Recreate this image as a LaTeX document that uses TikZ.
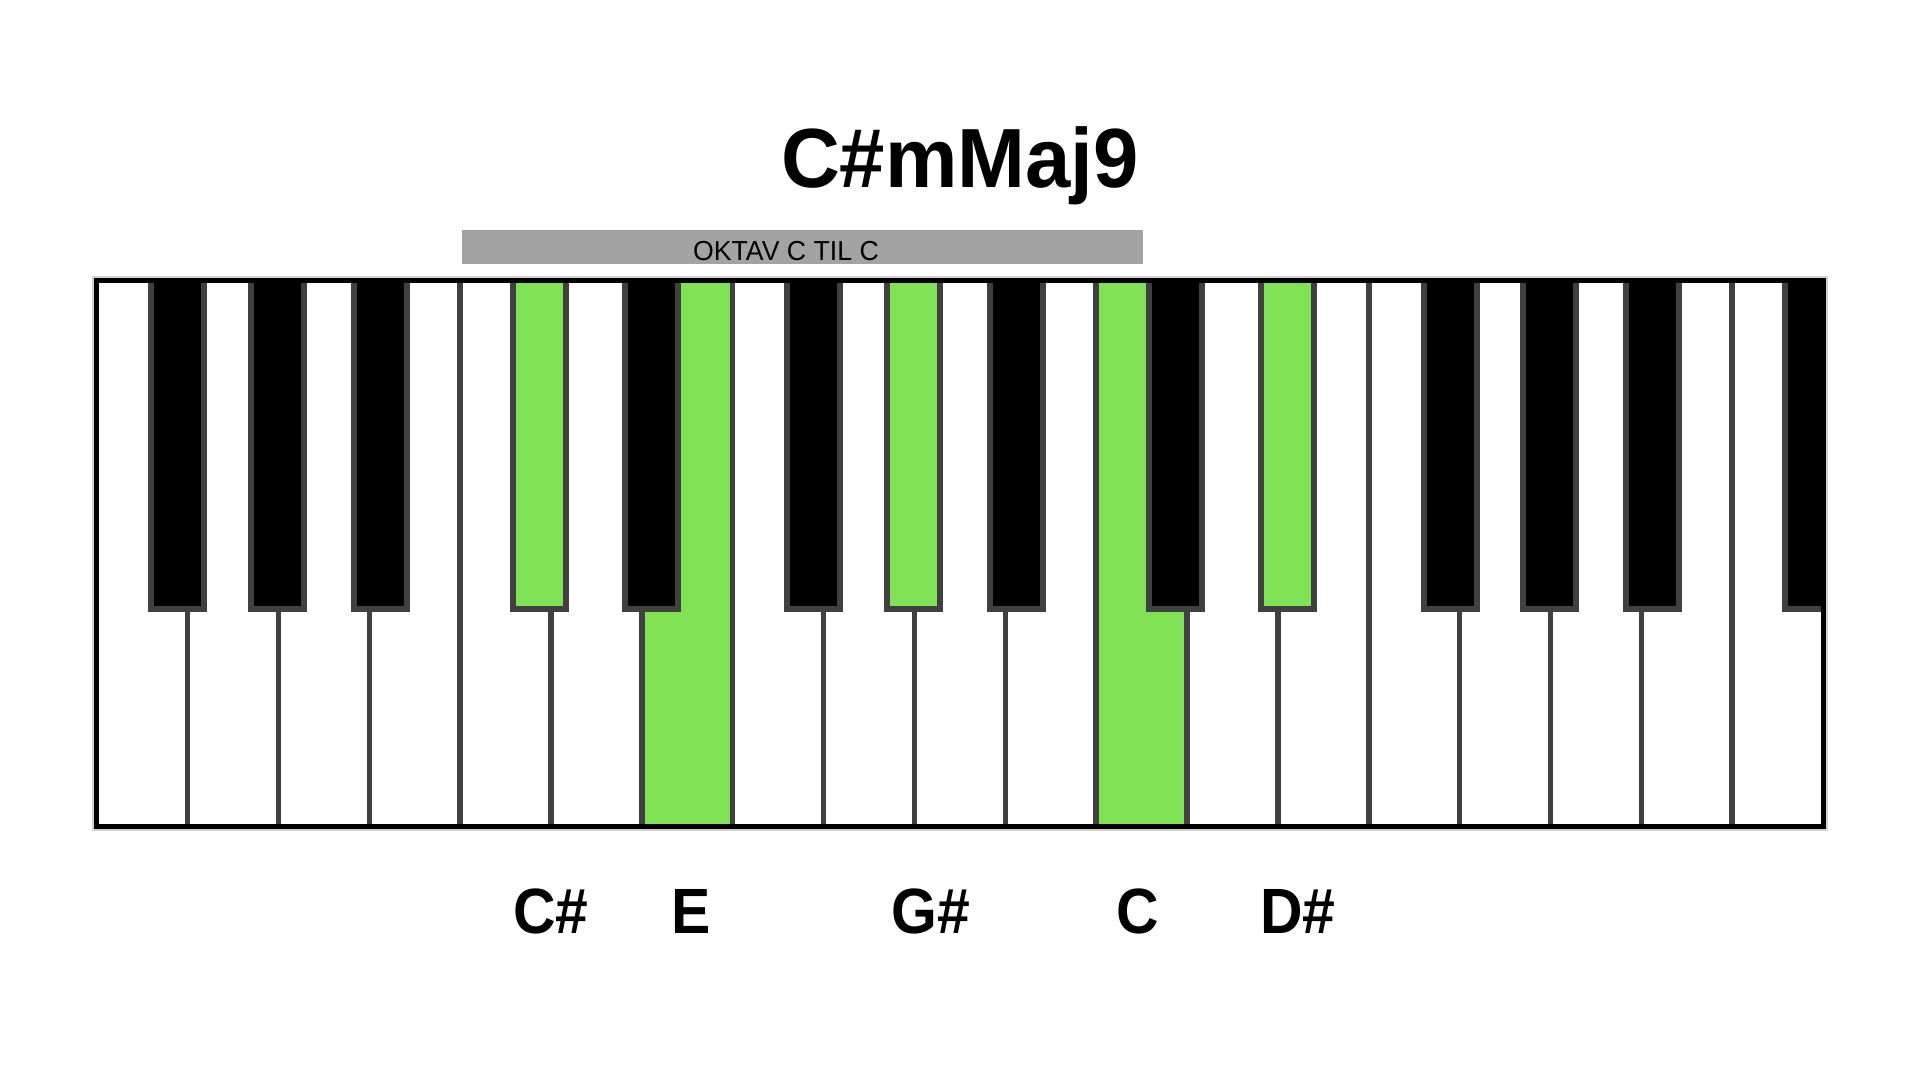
\documentclass[tikz,border=0pt]{standalone}
\usepackage{fontspec}
\setmainfont{Liberation Sans}
\definecolor{keygreen}{HTML}{7EE254}
\definecolor{keyedge}{HTML}{404040}
\definecolor{bandgray}{HTML}{A3A3A3}
\newcommand{\narrowtxt}[1]{\scalebox{0.92}[1]{#1}}
\tikzset{
  divider/.style={draw=keyedge, line width=5.5},
  blackkey/.style={draw=keyedge, line width=6},
  greenwhite/.style={fill=keygreen},
  kbframe/.style={draw=black, line width=5},
  kbshadow/.style={draw=black!18, line width=9},
  titletext/.style={inner sep=0pt, anchor=base, font=\bfseries\fontsize{84}{84}\selectfont},
  bandtext/.style={inner sep=0pt, anchor=base, font=\fontsize{27.5}{27.5}\selectfont},
  notelabel/.style={inner sep=0pt, anchor=base, font=\bfseries\fontsize{64}{64}\selectfont}
}
\begin{document}
\begin{tikzpicture}[x=1pt,y=-1pt]
  \useasboundingbox[fill=white] (0,0) rectangle (1920,1080);
  % title
  \node[titletext] (title) at (960,187) {\scalebox{0.97}[1]{C\#mMaj9}};
  % octave band
  \fill[bandgray] (462,230) rectangle (1143,264);
  \node[bandtext] (band) at (786,260) {\scalebox{0.97}[1]{OKTAV C TIL C}};
  % keyboard
  \draw[kbshadow] (96.7,280) rectangle (1823,826.5);
  \fill[white] (96.7,280) rectangle (1823,826.5);
  \fill[greenwhite] ({96.7+90.86*6},280) rectangle ({96.7+90.86*7},826.5);
  \fill[greenwhite] ({96.7+90.86*11},280) rectangle ({96.7+90.86*12},826.5);
  \foreach \k in {1,...,18}
    \draw[divider] ({96.7+90.86*\k},280) -- ({96.7+90.86*\k},826.5);
  \begin{scope}
    \clip (96.7,280) rectangle (1823,826.5);
    \foreach \k/\o/\c in {1/-9.6/black, 2/-0.7/black, 3/11/black,
                          5/-11.8/keygreen, 6/9.9/black,
                          8/-9.7/black, 9/-0.7/keygreen, 10/10.8/black,
                          12/-11.7/black, 13/9.9/keygreen,
                          15/-9.5/black, 16/-0.7/black, 17/11/black,
                          19/-11.7/black}
      \draw[blackkey, fill=\c] ({96.7+90.86*\k+\o-26.5},276) rectangle ({96.7+90.86*\k+\o+26.5},608.7);
  \end{scope}
  \draw[kbframe] (96.7,280) rectangle (1823,826.5);
  % note labels
  \node[notelabel] (n1) at (551,933) {\narrowtxt{C\#}};
  \node[notelabel] (n2) at (691,933) {\narrowtxt{E}};
  \node[notelabel] (n3) at (931,933) {\narrowtxt{G\#}};
  \node[notelabel] (n4) at (1138,933) {\narrowtxt{C}};
  \node[notelabel] (n5) at (1298,933) {\narrowtxt{D\#}};
\end{tikzpicture}
\end{document}
